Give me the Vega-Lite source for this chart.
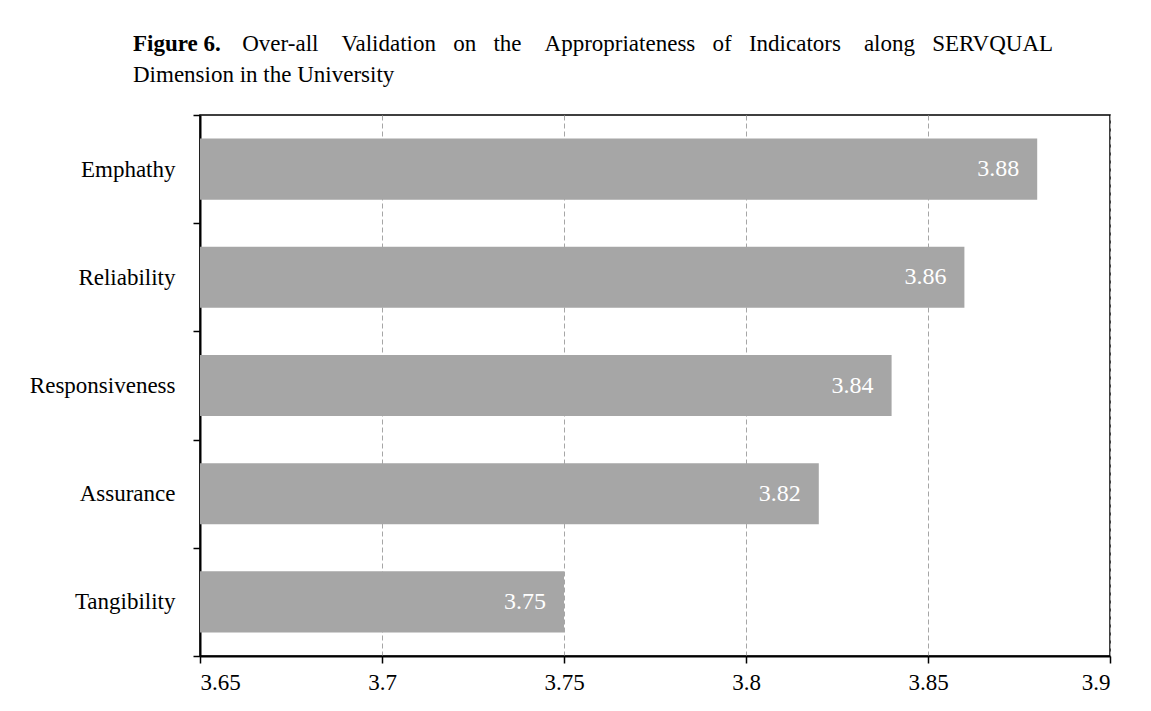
{
  "$schema": "https://vega.github.io/schema/vega-lite/v6.json",
  "width": 910,
  "height": 541,
  "autosize": {"type": "none"},
  "padding": {"left": 200, "top": 115, "right": 41, "bottom": 55},
  "background": "white",
  "title": {
    "text": "Figure 6.",
    "subtitle": [
      "\u200b\u00a0\u00a0\u00a0\u00a0\u00a0\u00a0\u00a0\u00a0\u00a0\u00a0\u00a0\u00a0\u00a0\u00a0\u00a0\u00a0\u00a0\u00a0\u00a0Over-all\u00a0\u00a0\u00a0\u00a0Validation\u00a0\u00a0\u00a0on\u00a0\u00a0\u00a0the\u00a0\u00a0\u00a0\u00a0Appropriateness\u00a0\u00a0\u00a0of\u00a0\u00a0\u00a0Indicators\u00a0\u00a0\u00a0\u00a0along\u00a0\u00a0\u00a0SERVQUAL",
      "Dimension in the University"
    ],
    "anchor": "start",
    "frame": "group",
    "dx": -67,
    "offset": 17,
    "font": "Liberation Serif",
    "fontSize": 23,
    "fontWeight": "bold",
    "color": "black",
    "subtitleFont": "Liberation Serif",
    "subtitleFontSize": 23,
    "subtitleFontWeight": "normal",
    "subtitleColor": "black",
    "subtitleLineHeight": 31,
    "subtitlePadding": -23
  },
  "data": {
    "values": [
      {"Dimension": "Emphathy", "Score": 3.88},
      {"Dimension": "Reliability", "Score": 3.86},
      {"Dimension": "Responsiveness", "Score": 3.84},
      {"Dimension": "Assurance", "Score": 3.82},
      {"Dimension": "Tangibility", "Score": 3.75}
    ]
  },
  "encoding": {
    "y": {
      "field": "Dimension",
      "type": "nominal",
      "sort": null,
      "scale": {"paddingInner": 0, "paddingOuter": 0},
      "axis": {
        "title": null,
        "tickBand": "extent",
        "grid": false,
        "domainColor": "black",
        "domainWidth": 2,
        "tickColor": "black",
        "tickWidth": 1.5,
        "tickSize": 7,
        "labelFont": "Liberation Serif",
        "labelFontSize": 23,
        "labelColor": "black",
        "labelPadding": 18
      }
    },
    "x": {
      "field": "Score",
      "type": "quantitative",
      "scale": {"domain": [3.65, 3.9], "zero": false, "nice": false},
      "axis": {
        "title": null,
        "values": [3.65, 3.7, 3.75, 3.8, 3.85, 3.9],
        "format": "~g",
        "grid": true,
        "gridColor": "#a6a6a6",
        "gridDash": [5, 3],
        "gridWidth": 1,
        "domainColor": "black",
        "domainWidth": 2,
        "tickColor": "black",
        "tickWidth": 1.5,
        "tickSize": 7,
        "labelFont": "Liberation Serif",
        "labelFontSize": 23,
        "labelColor": "black",
        "labelPadding": 8
      }
    }
  },
  "layer": [
    {
      "mark": {"type": "bar", "color": "#a6a6a6", "height": {"band": 0.565}},
      "encoding": {"x2": {"datum": 3.65}}
    },
    {
      "mark": {
        "type": "text",
        "align": "right",
        "baseline": "middle",
        "dx": -18,
        "color": "white",
        "font": "Liberation Serif",
        "fontSize": 24
      },
      "encoding": {"text": {"field": "Score", "type": "quantitative", "format": ".2f"}}
    }
  ],
  "config": {
    "view": {"stroke": "black", "strokeWidth": 1.5}
  }
}
